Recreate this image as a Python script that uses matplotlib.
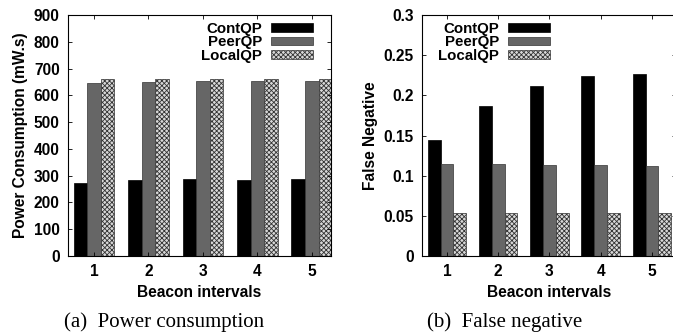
import matplotlib
matplotlib.use("Agg")
import matplotlib.pyplot as plt
import numpy as np

intervals = [1, 2, 3, 4, 5]
series = ["ContQP", "PeerQP", "LocalQP"]

power_cont = [271, 284, 286, 284, 287]
power_peer = [647, 651, 653, 653, 653]
power_local = [660, 660, 660, 660, 660]

fn_cont = [0.144, 0.187, 0.211, 0.224, 0.227]
fn_peer = [0.114, 0.1145, 0.113, 0.113, 0.112]
fn_local = [0.054, 0.054, 0.054, 0.054, 0.054]

plt.rcParams['font.family'] = ['Liberation Sans', 'DejaVu Sans']
plt.rcParams['font.weight'] = 'bold'
plt.rcParams['hatch.linewidth'] = 0.6
plt.rcParams['hatch.color'] = '#555555'

styles = [
    dict(color='black', edgecolor='black'),
    dict(color='#666666', edgecolor='#333333'),
    dict(color='#d8d8d8', edgecolor='#333333', hatch='xxxxxxx'),
]

fs = 11.2
fig = plt.figure(figsize=(6.73, 3.34), dpi=100)


def draw(ax, data, ylim, yticks, ylabel, xlim, legend_anchor):
    x = np.array(intervals)
    w = 0.25
    for i, (vals, name) in enumerate(zip(data, series)):
        ax.bar(x + (i - 1) * w, vals, w, label=name, linewidth=0.5, **styles[i])
    ax.set_xlim(*xlim)
    ax.set_ylim(*ylim)
    ax.set_xticks(intervals)
    ax.set_yticks(yticks)
    ax.tick_params(direction='in', top=True, right=True, labelsize=fs, length=3, width=0.6, pad=6)
    ax.set_xlabel("Beacon intervals", fontsize=fs, fontweight='bold', labelpad=4)
    ax.set_ylabel(ylabel, fontsize=fs, fontweight='bold', labelpad=4)
    for s in ax.spines.values():
        s.set_linewidth(0.8)
    # legend labels sit left of their swatches, as in gnuplot
    ax.legend(loc='upper right', bbox_to_anchor=legend_anchor, bbox_transform=fig.transFigure,
              frameon=False, markerfirst=False, fontsize=10.8, handlelength=2.8, handleheight=0.5,
              labelspacing=-0.04, handletextpad=0.6, borderaxespad=0, borderpad=0)


ax1 = fig.add_axes([68 / 673, 78 / 334, 263 / 673, 241 / 334])
draw(ax1, [power_cont, power_peer, power_local], (0, 900), range(0, 901, 100),
     "Power Consumption (mW.s)", (0.523, 5.35), (313 / 673, 1 - 22 / 334))

ax2 = fig.add_axes([422 / 673, 78 / 334, 254 / 673, 241 / 334])
draw(ax2, [fn_cont, fn_peer, fn_local], (0, 0.3), [0, 0.05, 0.1, 0.15, 0.2, 0.25, 0.3],
     "False Negative", (0.512, 5.47), (550 / 673, 1 - 22 / 334))
ax2.set_yticklabels(["0", "0.05", "0.1", "0.15", "0.2", "0.25", "0.3"])

cap = dict(fontsize=15, family=['Liberation Serif', 'DejaVu Serif'], fontweight='normal',
           ha='center', va='center')
fig.text(164 / 673, 1 - 322 / 334, "(a)  Power consumption", **cap)
fig.text(505 / 673, 1 - 322 / 334, "(b)  False negative", **cap)

fig.savefig("out.png", dpi=100)
